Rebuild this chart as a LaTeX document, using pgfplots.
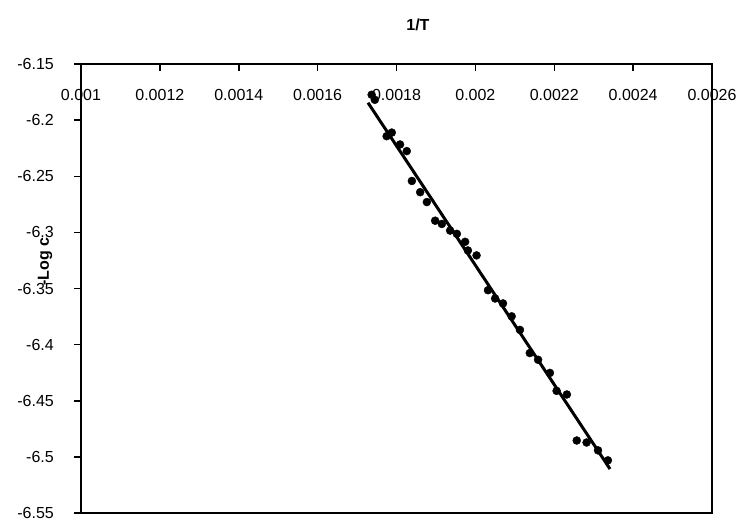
\documentclass[border=0pt]{standalone}
\usepackage{fontspec}
\setmainfont{Liberation Sans}
\usepackage{pgfplots}
\pgfplotsset{compat=1.18}
\newcommand{\tickfont}{\fontsize{16}{18}\selectfont}
\begin{document}
\begin{tikzpicture}
% page = 746 x 523 px, 1px = 1pt, axis box from (81,64) to (712,513) px
\path[use as bounding box] (-81pt,-10pt) rectangle (665pt,513pt);
\begin{axis}[
    scale only axis,
    width=631pt, height=449pt,
    at={(0,0)}, anchor=south west,
    clip=false,
    xmin=0.001, xmax=0.0026,
    ymin=-6.55, ymax=-6.15,
    scaled x ticks=false, scaled y ticks=false,
    xtick={0.001,0.0012,0.0014,0.0016,0.0018,0.002,0.0022,0.0024,0.0026},
    xticklabels={0.001,0.0012,0.0014,0.0016,0.0018,0.002,0.0022,0.0024,0.0026},
    ytick={-6.55,-6.5,-6.45,-6.4,-6.35,-6.3,-6.25,-6.2,-6.15},
    yticklabels={-6.55,-6.5,-6.45,-6.4,-6.35,-6.3,-6.25,-6.2,-6.15},
    xtick pos=upper, xticklabel pos=upper,
    ytick pos=left,
    tick align=inside,
    major tick length=7pt,
    axis line style={line width=2pt},
    every x tick/.style={black, line width=1.5pt},
    every y tick/.style={black, line width=1.5pt, xshift=-7pt},
    xticklabel style={font=\tickfont, anchor=center, inner sep=0pt, yshift=-31pt},
    yticklabel style={font=\tickfont, anchor=east, inner sep=0pt, xshift=-27pt},
]
\addplot[only marks, mark=*, mark size=4pt, black] coordinates {
(0.001737,-6.1774) (0.001745,-6.1819) (0.001775,-6.2143) (0.001788,-6.2111)
(0.001809,-6.2217) (0.001826,-6.2276) (0.001839,-6.2542) (0.001860,-6.2642)
(0.001877,-6.2730) (0.001898,-6.2896) (0.001915,-6.2925) (0.001936,-6.2984)
(0.001953,-6.3013) (0.001974,-6.3084) (0.001981,-6.3161) (0.002003,-6.3205)
(0.002032,-6.3515) (0.002050,-6.3589) (0.002070,-6.3633) (0.002092,-6.3748)
(0.002113,-6.3869) (0.002138,-6.4075) (0.002159,-6.4135) (0.002189,-6.4252)
(0.002206,-6.4412) (0.002232,-6.4444) (0.002257,-6.4854) (0.002282,-6.4872)
(0.002311,-6.4942) (0.002336,-6.5031)
};
% linear trend line
\addplot[black, line width=3pt] coordinates {(0.0017278,-6.1845) (0.0023414,-6.5108)};

\node[font=\bfseries\tickfont] at (rel axis cs:0.534,1.088) {1/T};
\node[font=\bfseries\tickfont, rotate=90] at (rel axis cs:-0.057,0.56) {-Log c};
\end{axis}
\end{tikzpicture}
\end{document}
